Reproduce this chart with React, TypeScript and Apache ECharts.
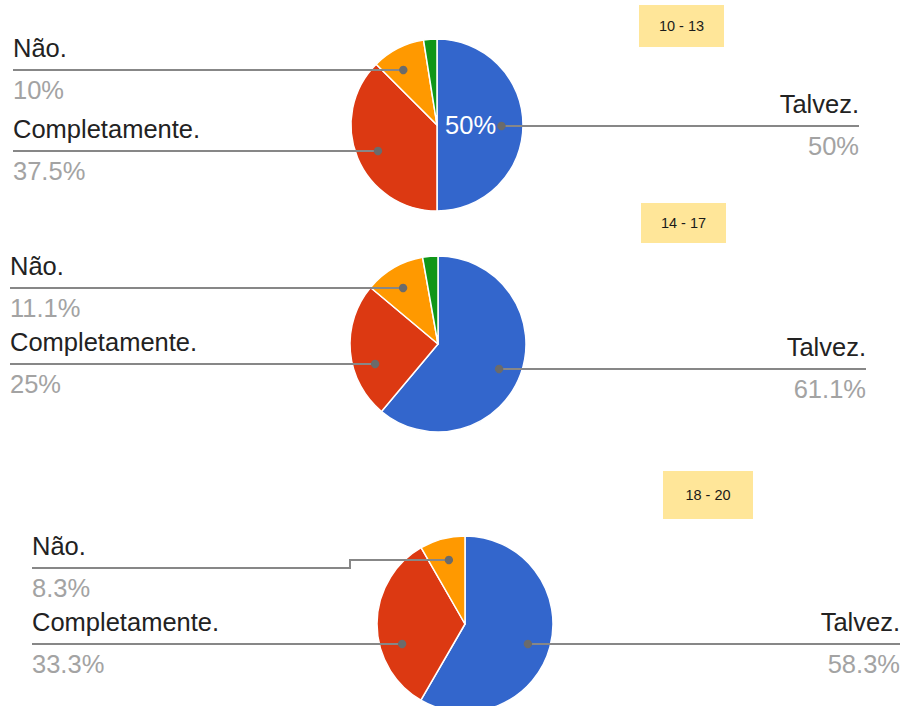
import React, { useEffect, useRef } from "react";
import * as echarts from "echarts";

// ---- data ----
const categories = ["Talvez.", "Completamente.", "Não.", "Outro"];
const ageGroups = ["10 - 13", "14 - 17", "18 - 20"];
const values1013 = [50, 37.5, 10, 2.5];
const values1417 = [61.1, 25, 11.1, 2.8];
const values1820 = [58.3, 33.3, 8.3];
const labelledCategories = ["Talvez.", "Completamente.", "Não."];

const allValues = [values1013, values1417, values1820];

// ---- layout / styles ----
const COLORS = ["#3366cc", "#dc3912", "#ff9900", "#109618"];
const FONT = "'Liberation Sans', Arial, sans-serif";
const LABEL_SIZE = 25.5;

type LabelLayout = { lineY: number; side: "left" | "right"; dotY?: number; stepX?: number };
const pieLayouts: {
  cx: number; cy: number; r: number; leftX: number; rightX: number;
  labels: Record<string, LabelLayout>;
  box: { x: number; y: number; w: number; h: number };
  inside?: boolean;
}[] = [
  {
    cx: 437, cy: 125, r: 86, leftX: 13, rightX: 859,
    labels: {
      "Talvez.": { lineY: 126, side: "right" },
      "Completamente.": { lineY: 151, side: "left" },
      "Não.": { lineY: 70, side: "left" },
    },
    box: { x: 639, y: 5, w: 85, h: 42 },
    inside: true,
  },
  {
    cx: 438, cy: 344, r: 88, leftX: 10, rightX: 866,
    labels: {
      "Talvez.": { lineY: 369, side: "right" },
      "Completamente.": { lineY: 364, side: "left" },
      "Não.": { lineY: 288, side: "left" },
    },
    box: { x: 641, y: 203, w: 85, h: 40 },
  },
  {
    cx: 465, cy: 624, r: 88, leftX: 32, rightX: 900,
    labels: {
      "Talvez.": { lineY: 644, side: "right" },
      "Completamente.": { lineY: 644, side: "left" },
      "Não.": { lineY: 568, side: "left", dotY: 560, stepX: 350 },
    },
    box: { x: 663, y: 471, w: 90, h: 48 },
  },
];

export default function App() {
  const ref = useRef<HTMLDivElement>(null);
  useEffect(() => {
    document.body.style.margin = "0";
    if (!ref.current) return;
    const chart = echarts.init(ref.current, undefined, { renderer: "svg" });

    const series: any[] = allValues.map((vals, pi) => {
      const L = pieLayouts[pi];
      return {
        type: "pie",
        center: [L.cx, L.cy],
        radius: [0, L.r],
        startAngle: 90,
        clockwise: true,
        label: { show: false },
        labelLine: { show: false },
        emphasis: { disabled: true },
        itemStyle: { borderColor: "#ffffff", borderWidth: 1.5 },
        data: vals.map((v, i) => ({
          name: categories[i],
          value: v,
          itemStyle: { color: COLORS[i] },
        })),
      };
    });

    const graphics: any[] = [];
    allValues.forEach((vals, pi) => {
      const L = pieLayouts[pi];
      const total = vals.reduce((a, b) => a + b, 0);
      const d = 0.75 * L.r;
      labelledCategories.forEach((cat) => {
        const idx = categories.indexOf(cat);
        const v = vals[idx];
        const lay = L.labels[cat];
        const dotY = lay.dotY ?? lay.lineY;
        const dy = dotY - L.cy;
        const dx = Math.sqrt(Math.max(d * d - dy * dy, 0)) * (lay.side === "left" ? -1 : 1);
        const dotX = L.cx + dx;
        const endX = lay.side === "left" ? L.leftX : L.rightX;
        const pts: number[][] = [[dotX, dotY]];
        if (lay.stepX !== undefined) {
          pts.push([lay.stepX, dotY]);
          pts.push([lay.stepX, lay.lineY]);
        }
        pts.push([endX, lay.lineY]);
        graphics.push({
          type: "polyline",
          z: 100,
          shape: { points: pts },
          style: { stroke: "#878787", lineWidth: 2, fill: null },
          silent: true,
        });
        graphics.push({
          type: "circle",
          z: 101,
          shape: { cx: dotX, cy: dotY, r: 4.2 },
          style: { fill: "#6b6b6b" },
          silent: true,
        });
        graphics.push({
          type: "text",
          z: 101,
          x: endX,
          y: lay.lineY - 22,
          style: {
            text: cat,
            font: `${LABEL_SIZE}px ${FONT}`,
            fill: "#222222",
            align: lay.side === "left" ? "left" : "right",
            verticalAlign: "middle",
          },
          silent: true,
        });
        graphics.push({
          type: "text",
          z: 101,
          x: endX,
          y: lay.lineY + 20,
          style: {
            text: `${v}%`,
            font: `${LABEL_SIZE}px ${FONT}`,
            fill: "#a3a3a3",
            align: lay.side === "left" ? "left" : "right",
            verticalAlign: "middle",
          },
          silent: true,
        });
      });
      if (L.inside) {
        const v = vals[0];
        const mid = ((v / 2) / total) * 2 * Math.PI;
        const rr = 0.39 * L.r;
        graphics.push({
          type: "text",
          z: 101,
          x: L.cx + rr * Math.sin(mid),
          y: L.cy - rr * Math.cos(mid),
          style: {
            text: `${v}%`,
            font: `${LABEL_SIZE}px ${FONT}`,
            fill: "#ffffff",
            align: "center",
            verticalAlign: "middle",
          },
          silent: true,
        });
      }
      const B = L.box;
      graphics.push({
        type: "rect",
        z: 100,
        shape: { x: B.x, y: B.y, width: B.w, height: B.h },
        style: { fill: "#ffe699" },
        silent: true,
      });
      graphics.push({
        type: "text",
        z: 101,
        x: B.x + B.w / 2,
        y: B.y + B.h / 2,
        style: {
          text: ageGroups[pi],
          font: `14.5px ${FONT}`,
          fill: "#1a1a1a",
          align: "center",
          verticalAlign: "middle",
        },
        silent: true,
      });
    });

    chart.setOption({
      animation: false,
      backgroundColor: "#ffffff",
      series,
      graphic: { elements: graphics },
    });
    return () => chart.dispose();
  }, []);
  return <div ref={ref} style={{ width: 901, height: 706 }} />;
}
